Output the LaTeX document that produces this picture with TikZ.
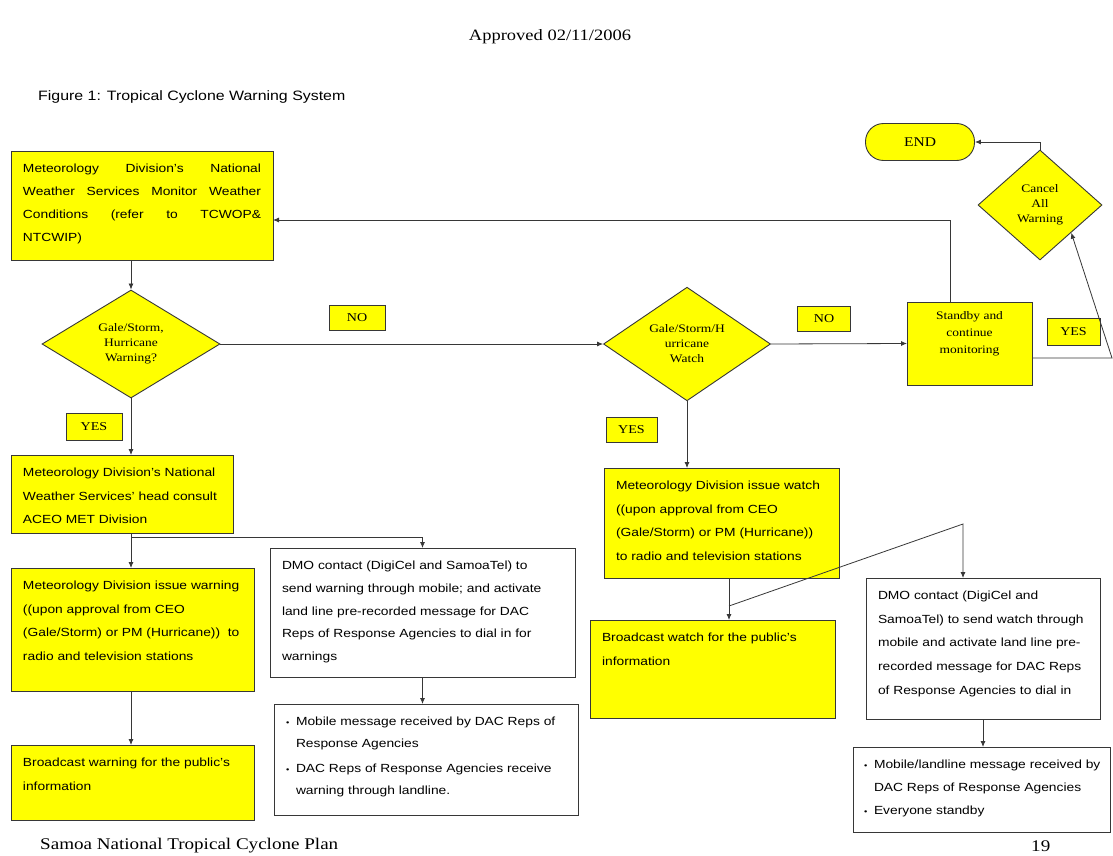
\documentclass[tikz,border=0pt]{standalone}
\usepackage{fontspec}
\setmainfont{Liberation Serif}[FakeStretch=1.17]
\newfontfamily\arialf{Liberation Sans}[FakeStretch=1.17]
\usetikzlibrary{shapes.geometric,arrows.meta}

\definecolor{boxyellow}{RGB}{255,255,0}
\definecolor{lineg}{RGB}{55,55,55}

% text block of a process box: outer width #2, outer height #3
\newcommand{\boxbody}[4][23.5pt]{\parbox[c][#3][t]{\dimexpr#2-24pt\relax}{\arialf\fontsize{11.8}{#1}\selectfont\raggedright\hbadness=10000\hfuzz=20pt\vspace*{13pt}#4\par}}
\newcommand{\itembullet}{\makebox[10pt][l]{\fontsize{8}{8}\selectfont\textbullet}}

\tikzset{
  yellowbox/.style={draw=lineg, fill=boxyellow, line width=0.9pt, anchor=north west,
                    inner xsep=12pt, inner ysep=0pt, outer sep=0pt},
  whitebox/.style={yellowbox, fill=white},
  decision/.style={diamond, draw=lineg, fill=boxyellow, line width=0.9pt, inner sep=0pt,
                   font=\fontsize{11.5}{15}\selectfont, align=center},
  tag/.style={draw=lineg, fill=boxyellow, line width=0.9pt, inner sep=0pt,
              font=\fontsize{12}{14}\selectfont},
  link/.style={draw=lineg, line width=0.8pt},
  arrowlink/.style={link, -{Latex[length=6pt,width=5pt]}},
}

\begin{document}
\begin{tikzpicture}[x=1pt,y=-1pt]
\fill[white] (0,0) rectangle (1113,856);
\useasboundingbox (0,0) rectangle (1113,856);

% page header and footer
\node (appr) at (550,37) {\fontsize{15.8}{18}\selectfont Approved 02/11/2006};
\node[anchor=west, inner sep=0pt] (fig) at (38,97) {\arialf\fontsize{13.6}{15}\selectfont Figure 1: Tropical Cyclone Warning System};
\node[anchor=west, inner sep=0pt] (plan) at (40,846) {\fontsize{16.3}{18}\selectfont Samoa National Tropical Cyclone Plan};
\node[anchor=west, inner sep=0pt] (pg) at (1031,846) {\fontsize{16.3}{18}\selectfont 19};

% warning branch (left)
\node[yellowbox] (mon) at (11,151) {\boxbody[23pt]{262pt}{109pt}{%
  \makebox[\linewidth][s]{Meteorology Division’s National}\\
  \makebox[\linewidth][s]{Weather Services Monitor Weather}\\
  \makebox[\linewidth][s]{Conditions (refer to TCWOP\&}\\
  NTCWIP)}};
\node[decision, minimum width=178pt, minimum height=108pt] (d1) at (131,344) {Gale/Storm,\\Hurricane\\Warning?};
\node[yellowbox] (acb) at (11,455) {\boxbody{222pt}{78pt}{%
  Meteorology Division’s National\\
  Weather Services’ head consult\\
  ACEO MET Division}};
\node[yellowbox] (warn) at (11,568) {\boxbody{243pt}{123pt}{%
  Meteorology Division issue warning\\
  ((upon approval from CEO\\
  (Gale/Storm) or PM (Hurricane))~ to\\
  radio and television stations}};
\node[yellowbox] (bcw) at (11,745) {\boxbody{243pt}{75pt}{%
  Broadcast warning for the public’s\\
  information}};
\node[whitebox] (dmo1) at (270,548) {\boxbody[22.8pt]{305pt}{129pt}{%
  DMO contact (DigiCel and SamoaTel) to\\
  send warning through mobile; and activate\\
  land line pre-recorded message for DAC\\
  Reps of Response Agencies to dial in for\\
  warnings}};
\node[whitebox] (rx1) at (274,704) {\boxbody[22pt]{304pt}{111pt}{%
  \hangindent=10pt\hangafter=1
  \itembullet Mobile message received by DAC Reps of\newline
  Response Agencies\par\vspace{3pt}
  \hangindent=10pt\hangafter=1
  \itembullet DAC Reps of Response Agencies receive\newline
  warning through landline.}};

% watch branch (middle)
\node[decision, minimum width=167pt, minimum height=108pt] (d2) at (687,344) {Gale/Storm/H\\urricane\\Watch};
\node[yellowbox] (watch) at (604,468) {\boxbody[23.7pt]{235pt}{110pt}{%
  Meteorology Division issue watch\\
  ((upon approval from CEO\\
  (Gale/Storm) or PM (Hurricane))\\
  to radio and television stations}};
\node[yellowbox] (bww) at (590,620) {\boxbody[24pt]{245pt}{98pt}{%
  Broadcast watch for the public’s\\
  information}};
\node[whitebox] (dmo2) at (866,578) {\boxbody[23.7pt]{234pt}{141pt}{%
  DMO contact (DigiCel and\\
  SamoaTel) to send watch through\\
  mobile and activate land line pre-\\
  recorded message for DAC Reps\\
  of Response Agencies to dial in}};
\node[whitebox, inner xsep=11pt] (rx2) at (853,747) {\boxbody[23pt]{259pt}{85pt}{%
  \hangindent=10pt\hangafter=1
  \itembullet\mbox{Mobile/landline message received by}\newline
  DAC Reps of Response Agencies\par
  \itembullet Everyone standby}};

% standby, cancel and end (right)
\node[yellowbox, inner xsep=0pt] (stand) at (907,302) {\parbox[c][83pt][t]{125pt}{\centering\fontsize{11.5}{17}\selectfont\vspace*{10pt}Standby and\\continue\\monitoring\par}};
\node[decision, minimum width=124pt, minimum height=110pt] (cancel) at (1040,205) {Cancel\\All\\Warning};
\node[draw=lineg, fill=boxyellow, line width=0.9pt, rounded corners=18pt,
      minimum width=109pt, minimum height=37pt, inner sep=0pt,
      font=\fontsize{13.3}{15}\selectfont] (end) at (920,142) {END};

% answer tags
\node[tag, minimum width=56pt, minimum height=25pt] (no1) at (357,317.5) {NO};
\node[tag, minimum width=56pt, minimum height=27pt] (yes1) at (94,426.5) {YES};
\node[tag, minimum width=53pt, minimum height=25pt] (no2) at (824,318.5) {NO};
\node[tag, minimum width=51pt, minimum height=25pt] (yes2) at (631.5,429.5) {YES};
\node[tag, minimum width=53pt, minimum height=27pt] (yes3) at (1073.5,331.5) {YES};

% connectors
\coordinate (br1) at (131,537);
\coordinate (wj) at (729,606);
\coordinate (wk) at (963,524);
\coordinate (up) at (950,220);
\coordinate (sr) at (1112,358);

\draw[arrowlink] (d1.north |- mon.south) -- (d1.north);
\draw[arrowlink] (d1.east) -- (d2.west);
\draw[arrowlink] (d1.south) -- (d1.south |- acb.north);
\draw[arrowlink] (d1.south |- acb.south) -- (d1.south |- warn.north);
\draw[arrowlink] (br1) -| (dmo1.north);
\draw[arrowlink] (d1.south |- warn.south) -- (d1.south |- bcw.north);
\draw[arrowlink] (dmo1.south) -- (dmo1.south |- rx1.north);

\draw[arrowlink] (d2.east) -- (stand.west);
\draw[arrowlink] (d2.south) -- (d2.south |- watch.north);
\draw[arrowlink] (watch.south -| wj) -- (wj |- bww.north);
\draw[arrowlink] (wj) -- (wk) -- (wk |- dmo2.north);
\draw[arrowlink] (dmo2.south) -- (dmo2.south |- rx2.north);

\draw[arrowlink] (stand.north -| up) -- (up) -- (up -| mon.east);
\draw[arrowlink] (cancel.north) |- (end.east);
\draw[arrowlink] (stand.east |- sr) -- (sr) -- (cancel.south east);
\end{tikzpicture}
\end{document}
